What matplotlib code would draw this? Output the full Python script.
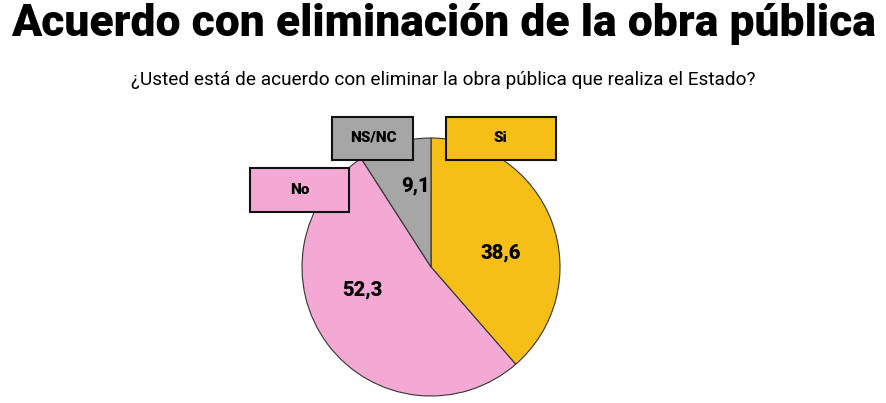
import matplotlib.pyplot as plt
from matplotlib.patches import Rectangle

categories = ['Si', 'No', 'NS/NC']
values = [38.6, 52.3, 9.1]
value_labels = ['38,6', '52,3', '9,1']
colors = ['#F5BF17', '#F4A9D5', '#A6A6A6']

title = 'Acuerdo con eliminación de la obra pública'
subtitle = '¿Usted está de acuerdo con eliminar la obra pública que realiza el Estado?'

# layout (pie radius = 1 unit = 129 px)
R_PX = 129.0
CX, CY = 431, 267
W, H = 887, 403
value_pos = [(0.54, 0.11), (-0.53, -0.18), (-0.12, 0.63)]
box_pos = [(0.54, 1.0), (-1.02, 0.60), (-0.45, 1.0)]
box_size = [(110, 43), (99, 44), (81, 43)]

plt.rcParams['font.family'] = ['Roboto', 'DejaVu Sans']

fig = plt.figure(figsize=(W / 100, H / 100), dpi=100)
ax = fig.add_axes([0, 0, 1, 1])

wedges, _ = ax.pie(values, colors=colors, startangle=90, counterclock=False,
                   radius=1.0, wedgeprops=dict(edgecolor='#333333', linewidth=0.8))
ax.set_xlim(-CX / R_PX, (W - CX) / R_PX)
ax.set_ylim(-(H - CY) / R_PX, CY / R_PX)
ax.set_aspect('equal')
ax.axis('off')

for lab, (x, y) in zip(value_labels, value_pos):
    ax.text(x, y, lab, ha='center', va='center', fontsize=14.5, fontweight='heavy')

for cat, col, (x, y), (bw, bh) in zip(categories, colors, box_pos, box_size):
    w, h = bw / R_PX, bh / R_PX
    ax.add_patch(Rectangle((x - w / 2, y - h / 2), w, h, facecolor=col,
                           edgecolor='#111111', linewidth=1.5, zorder=5))
    ax.text(x, y, cat, ha='center', va='center', fontsize=11,
            fontweight='heavy', zorder=6)

t = fig.text(0.5, 1 - 24 / H, title, ha='center', va='center', fontsize=37,
             fontweight='black')
fig.canvas.draw()
tw = t.get_window_extent().width
t.set_fontsize(37 * 866 / tw)

s = fig.text(0.5, 1 - 80 / H, subtitle, ha='center', va='center', fontsize=13.5)
fig.canvas.draw()
sw = s.get_window_extent().width
s.set_fontsize(13.5 * 624 / sw)

fig.savefig('out.png', dpi=100)
